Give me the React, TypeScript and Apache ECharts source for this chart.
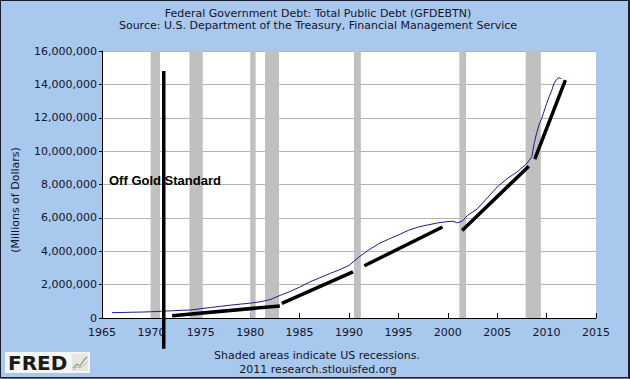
import React, { useEffect, useRef } from 'react';
import * as echarts from 'echarts';

// Blue series: Total Public Debt, millions of dollars
const debtYears = [
  1966, 1967, 1968, 1969, 1970, 1971, 1972, 1973, 1974, 1975, 1976, 1977, 1978, 1979,
  1980, 1981, 1982, 1983, 1984, 1985, 1986, 1987, 1988, 1989, 1990, 1991, 1992, 1993,
  1994, 1995, 1996, 1997, 1998, 1999, 2000, 2000.5, 2001, 2001.5, 2002, 2003, 2004,
  2005, 2006, 2007, 2008, 2008.5, 2008.75, 2009, 2009.25, 2009.5, 2009.75, 2010,
  2010.25, 2010.5, 2010.75, 2011, 2011.25, 2011.5,
];
const debtValues = [
  320000, 330000, 345000, 355000, 375000, 405000, 430000, 460000, 480000, 560000, 630000, 700000, 770000, 830000,
  890000, 970000, 1100000, 1350000, 1580000, 1850000, 2150000, 2400000, 2650000, 2880000, 3150000, 3650000, 4080000, 4450000,
  4720000, 4980000, 5250000, 5450000, 5580000, 5700000, 5780000, 5800000, 5700000, 5820000, 6150000, 6550000, 7200000,
  7850000, 8350000, 8750000, 9250000, 9660000, 10500000, 11100000, 11600000, 11950000, 12400000, 12850000,
  13250000, 13600000, 14050000, 14300000, 14400000, 14340000,
];

// Shaded recessions (fractional years)
const recessionStarts = [1969.92, 1973.85, 1980.0, 1981.5, 1990.5, 2001.17, 2007.88];
const recessionEnds = [1970.87, 1975.2, 1980.55, 1982.92, 1991.2, 2001.85, 2009.42];

// Hand-drawn black trend segments
const segStartYears = [1972.1, 1983.2, 1991.55, 2001.45, 2008.8];
const segStartValues = [140000, 880000, 3130000, 5250000, 9520000];
const segEndYears = [1983.0, 1990.4, 1999.46, 2008.2, 2011.9];
const segEndValues = [720000, 2770000, 5450000, 9100000, 14250000];

// "Off Gold Standard" vertical marker
const goldYear = 1971.25;
const goldTop = 14800000;
const goldBottom = -1850000;

// Axis ticks
const xMin = 1965;
const xMax = 2015;
const xStep = 5;
const yMin = 0;
const yMax = 16000000;
const yStep = 2000000;

const titleLines = [
  'Federal Government Debt: Total Public Debt (GFDEBTN)',
  'Source: U.S. Department of the Treasury, Financial Management Service',
];
const yAxisName = '(Millions of Dollars)';
const noteLines = ['Shaded areas indicate US recessions.', '2011 research.stlouisfed.org'];
const annotation = 'Off Gold Standard';

const FONT = '"DejaVu Sans", Verdana, sans-serif';
const TEXT = '#141428';

export default function App() {
  const ref = useRef<HTMLDivElement>(null);
  useEffect(() => {
    document.body.style.margin = '0';
    const chart = echarts.init(ref.current!, null, { renderer: 'svg' });

    const debtData = debtYears.map((y, i) => [y, debtValues[i]]);
    const areas = recessionStarts.map((s, i) => [{ xAxis: s }, { xAxis: recessionEnds[i] }]);
    const segSeries = segStartYears.map((s, i) => ({
      type: 'line',
      data: [
        [s, segStartValues[i]],
        [segEndYears[i], segEndValues[i]],
      ],
      showSymbol: false,
      clip: false,
      silent: true,
      z: 5,
      lineStyle: { color: '#000', width: 3.5, cap: 'butt' },
    }));

    chart.setOption({
      animation: false,
      backgroundColor: '#a8c8ee',
      grid: {
        left: 102,
        top: 51,
        width: 494,
        height: 267,
        show: true,
        backgroundColor: '#ffffff',
        borderWidth: 0,
      },
      xAxis: {
        type: 'value',
        min: xMin,
        max: xMax,
        interval: xStep,
        axisLine: { show: true, lineStyle: { color: '#000', width: 1 } },
        axisTick: { show: true, inside: true, length: 5, lineStyle: { color: '#000' } },
        axisLabel: { fontFamily: FONT, fontSize: 11, color: TEXT, margin: 9, formatter: (v: number) => String(v) },
        splitLine: { show: false },
      },
      yAxis: {
        type: 'value',
        min: yMin,
        max: yMax,
        interval: yStep,
        axisLine: { show: true, lineStyle: { color: '#000', width: 1 } },
        axisTick: { show: true, length: 3, lineStyle: { color: '#000' } },
        axisLabel: {
          fontFamily: FONT,
          fontSize: 11,
          color: TEXT,
          margin: 5,
          formatter: (v: number) => v.toLocaleString('en-US'),
        },
        splitLine: { show: true, lineStyle: { color: '#b4b4b4', width: 1 } },
      },
      series: [
        {
          type: 'line',
          data: [],
          silent: true,
          z: 1,
          markArea: {
            silent: true,
            itemStyle: { color: '#c0c0c0', opacity: 1 },
            data: areas,
          },
        },
        {
          type: 'line',
          data: debtData,
          showSymbol: false,
          silent: true,
          z: 3,
          lineStyle: { color: '#1c1c8c', width: 1 },
        },
        ...segSeries,
        {
          type: 'line',
          data: [
            [goldYear, goldTop],
            [goldYear, goldBottom],
          ],
          showSymbol: false,
          clip: false,
          silent: true,
          z: 5,
          lineStyle: { color: '#000', width: 3.5, cap: 'butt' },
        },
      ],
      graphic: [
        {
          type: 'text',
          x: 318,
          y: 13,
          style: { text: titleLines[0], font: `11px ${FONT}`, fill: TEXT, textAlign: 'center', textVerticalAlign: 'middle' },
        },
        {
          type: 'text',
          x: 318,
          y: 25,
          style: { text: titleLines[1], font: `11px ${FONT}`, fill: TEXT, textAlign: 'center', textVerticalAlign: 'middle' },
        },
        {
          type: 'text',
          x: 15,
          y: 200,
          rotation: Math.PI / 2,
          style: { text: yAxisName, font: `11px ${FONT}`, fill: TEXT, textAlign: 'center', textVerticalAlign: 'middle' },
        },
        {
          type: 'text',
          x: 109,
          y: 180,
          z: 100,
          style: {
            text: annotation,
            font: `bold 13px "Liberation Sans", Arial, sans-serif`,
            fill: '#000',
            textAlign: 'left',
            textVerticalAlign: 'middle',
          },
        },
        {
          type: 'text',
          x: 317,
          y: 355,
          style: { text: noteLines[0], font: `11px ${FONT}`, fill: TEXT, textAlign: 'center', textVerticalAlign: 'middle' },
        },
        {
          type: 'text',
          x: 318,
          y: 369,
          style: { text: noteLines[1], font: `11px ${FONT}`, fill: TEXT, textAlign: 'center', textVerticalAlign: 'middle' },
        },
        // FRED logo
        {
          type: 'group',
          x: 5,
          y: 352,
          children: [
            { type: 'rect', shape: { x: 0, y: 0, width: 85, height: 21 }, style: { fill: '#f4f4f2' } },
            {
              type: 'text',
              x: 3,
              y: 11,
              style: {
                text: 'FRED',
                font: `bold 20px "DejaVu Sans", sans-serif`,
                fill: '#1a1a1a',
                textAlign: 'left',
                textVerticalAlign: 'middle',
              },
            },
            { type: 'rect', shape: { x: 67, y: 2, width: 16, height: 17 }, style: { fill: '#e6e8e0' } },
            {
              type: 'polyline',
              shape: { points: [[68, 16], [72, 12], [75, 14], [79, 8], [82, 5]] },
              style: { stroke: '#8a9a80', lineWidth: 1.2, fill: 'none' },
            },
            {
              type: 'polyline',
              shape: { points: [[68, 18], [72, 15], [76, 16], [82, 10]] },
              style: { stroke: '#b0b8a8', lineWidth: 1, fill: 'none' },
            },
          ],
        },
        // outer frame
        {
          type: 'rect',
          z: 200,
          shape: { x: 0.5, y: 0.5, width: 628, height: 377 },
          style: { fill: 'none', stroke: '#1e1e2a', lineWidth: 1 },
        },
        {
          type: 'line',
          z: 200,
          shape: { x1: 0, y1: 378, x2: 630, y2: 378 },
          style: { stroke: '#1e1e2a', lineWidth: 1 },
        },
        {
          type: 'line',
          z: 200,
          shape: { x1: 629.5, y1: 0, x2: 629.5, y2: 379 },
          style: { stroke: '#1e1e2a', lineWidth: 1 },
        },
      ],
    });
    return () => chart.dispose();
  }, []);
  return <div ref={ref} style={{ width: 630, height: 379 }} />;
}
